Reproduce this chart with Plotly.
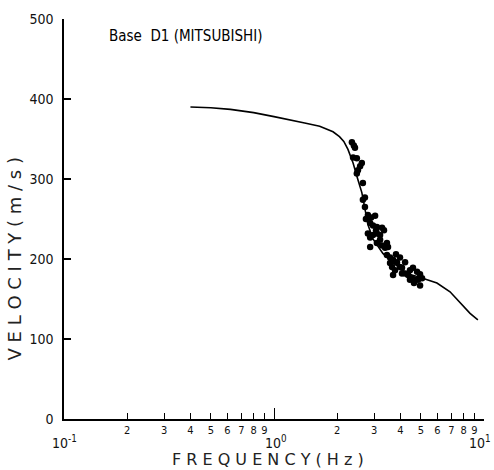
import plotly.graph_objects as go

# Theoretical dispersion curve (frequency Hz, phase velocity m/s)
curve_f = [0.40, 0.50, 0.62, 0.80, 1.00, 1.20, 1.40, 1.65, 1.91, 2.05, 2.15, 2.25,
           2.38, 2.51, 2.62, 2.71, 2.80, 2.96, 3.30, 3.69, 4.30, 5.10, 5.97, 6.89,
           7.69, 8.58, 9.35]
curve_v = [390, 389, 387, 383, 378, 374, 370, 366, 359, 353, 347, 337,
           320, 299, 283, 263, 243, 225, 207, 195, 182, 176, 170, 159,
           145, 132, 124]

# Observed data points
obs_f = [2.35, 2.40, 2.43, 2.38, 2.48, 2.62, 2.57, 2.51, 2.48, 2.65, 2.71, 2.65,
         2.71, 2.80, 2.90, 3.03, 2.87, 2.96, 3.09, 3.27, 2.80, 2.87, 2.96, 3.09,
         3.20, 3.34, 2.87, 3.09, 3.27, 3.45, 3.38, 3.49, 3.45, 3.57, 3.69, 3.85,
         4.21, 3.98, 3.65, 3.77, 4.07, 3.69, 4.07, 4.21, 4.35, 4.44, 4.59, 4.80,
         4.54, 4.85, 4.96, 4.69, 4.96, 5.07, 3.98, 3.06, 2.74, 3.20, 3.57, 4.44,
         4.64, 3.81]
obs_v = [346, 342, 339, 327, 326, 320, 316, 311, 307, 295, 277, 274,
         265, 255, 252, 254, 245, 242, 240, 239, 232, 227, 230, 232,
         230, 236, 215, 220, 217, 220, 214, 215, 205, 202, 199, 196,
         196, 202, 190, 186, 189, 180, 182, 182, 180, 186, 189, 184,
         176, 174, 167, 174, 181, 176, 190, 236, 250, 224, 195, 174,
         170, 206]

x_tickvals = [0.1, 0.2, 0.3, 0.4, 0.5, 0.6, 0.7, 0.8, 0.9,
              1, 2, 3, 4, 5, 6, 7, 8, 9, 10]
x_ticktext = ["", "2", "3", "4", "5", "6", "7", "8", "9",
              "", "2", "3", "4", "5", "6", "7", "8", "9", ""]
decade_exps = [-1, 0, 1]
decade_labels = ["10<sup>-1</sup>", "10<sup>0</sup>", "10<sup>1</sup>"]
decade_shift = [0, 2, -4]
y_tickvals = [0, 100, 200, 300, 400, 500]

title_text = "Base\u00a0\u00a0D1 (MITSUBISHI)"
x_title = "F R E Q U E N C Y ( H z )"
y_title = "V E L O C I T Y ( m / s )"

fig = go.Figure()
fig.add_trace(go.Scatter(x=curve_f, y=curve_v, mode="lines",
                         line=dict(color="black", width=1.6), showlegend=False))
fig.add_trace(go.Scatter(x=obs_f, y=obs_v, mode="markers",
                         marker=dict(color="black", size=6.5), showlegend=False))

fig.update_layout(
    width=494, height=470,
    margin=dict(l=64, r=10, t=19, b=51),
    paper_bgcolor="white", plot_bgcolor="white",
    font=dict(family="DejaVu Sans Condensed", color="#111"),
    xaxis=dict(type="log", range=[-1, 1], showgrid=False, zeroline=False,
               automargin=False,
               showline=True, linecolor="black", linewidth=1.5,
               tickmode="array", tickvals=x_tickvals, ticktext=x_ticktext,
               tickangle=0,
               ticks="inside", ticklen=6, tickwidth=1.2, tickcolor="black",
               tickfont=dict(size=11, family="DejaVu Sans Condensed"),
               minor=dict(tickmode="array", tickvals=[0.1, 1, 10], ticks="inside",
                          ticklen=11, tickwidth=1.2, tickcolor="black"),
               ticklabelstandoff=0),
    yaxis=dict(range=[0, 500], showgrid=False, zeroline=False,
               automargin=False,
               showline=True, linecolor="black", linewidth=1.5,
               tickmode="array", tickvals=y_tickvals,
               ticks="inside", ticklen=7, tickwidth=1.5, tickcolor="black",
               tickfont=dict(size=14, family="DejaVu Sans Condensed"),
               ticklabelstandoff=6),
)

for e, lab, sh in zip(decade_exps, decade_labels, decade_shift):
    fig.add_annotation(text=lab, xref="x", yref="paper", x=e, y=-0.057,
                       xanchor="center", yanchor="middle", showarrow=False,
                       xshift=sh,
                       font=dict(size=14, family="DejaVu Sans Condensed", color="#111"))

fig.add_annotation(text=title_text, xref="paper", yref="paper", x=0.102, y=0.957,
                   xanchor="left", yanchor="middle", showarrow=False,
                   font=dict(size=15, family="DejaVu Sans Condensed", color="#000"))
fig.add_annotation(text=x_title, xref="paper", yref="paper", x=0.486, y=-0.101,
                   xanchor="center", yanchor="middle", showarrow=False,
                   font=dict(size=16, family="DejaVu Sans", color="#222"))
fig.add_annotation(text=y_title, xref="paper", yref="paper", x=-0.118, y=0.40,
                   xanchor="center", yanchor="middle", showarrow=False, textangle=-90,
                   font=dict(size=18, family="DejaVu Sans", color="#222"))

fig.write_html("out.html")
